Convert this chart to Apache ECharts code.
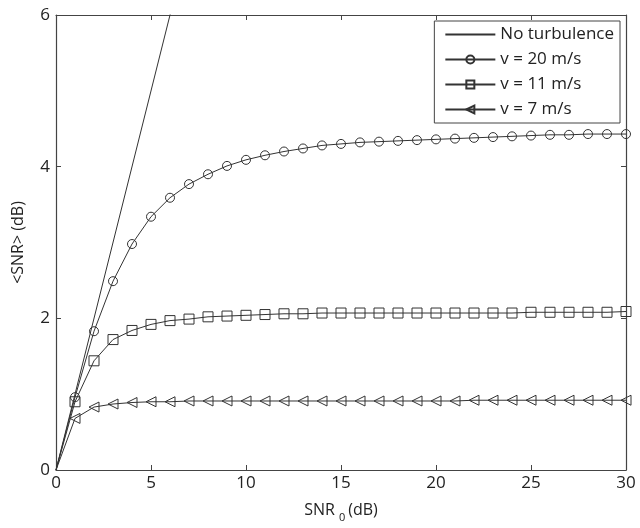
<!DOCTYPE html>
<html>
<head>
<meta charset="utf-8">
<script src="https://cdn.jsdelivr.net/npm/echarts@6/dist/echarts.min.js"></script>
<style>
  html, body { margin: 0; padding: 0; background: #fff; }
  #chart { width: 640px; height: 528px; }
</style>
</head>
<body>
<div id="chart"></div>
<script>
// SNR0 (dB) sample points
const snr0 = [0, 1, 2, 3, 4, 5, 6, 7, 8, 9, 10, 11, 12, 13, 14, 15, 16, 17, 18, 19, 20,
  21, 22, 23, 24, 25, 26, 27, 28, 29, 30];

// no turbulence: <SNR> = SNR0
const noTurbX = [0, 30];
const noTurbY = [0, 30];

const v20 = [0, 0.96, 1.83, 2.49, 2.98, 3.34, 3.59, 3.77, 3.9, 4.01, 4.09, 4.15, 4.2, 4.24,
  4.28, 4.3, 4.32, 4.33, 4.34, 4.35, 4.36, 4.37, 4.38, 4.39, 4.4, 4.41, 4.42, 4.42, 4.43, 4.43, 4.43];
const v11 = [0, 0.9, 1.44, 1.72, 1.84, 1.92, 1.97, 1.99, 2.02, 2.03, 2.04, 2.05, 2.06, 2.06,
  2.07, 2.07, 2.07, 2.07, 2.07, 2.07, 2.07, 2.07, 2.07, 2.07, 2.07, 2.08, 2.08, 2.08, 2.08, 2.08, 2.09];
const v7 = [0, 0.68, 0.83, 0.87, 0.89, 0.9, 0.9, 0.91, 0.91, 0.91, 0.91, 0.91, 0.91, 0.91,
  0.91, 0.91, 0.91, 0.91, 0.91, 0.91, 0.91, 0.91, 0.92, 0.92, 0.92, 0.92, 0.92, 0.92, 0.92, 0.92, 0.92];

const xTicks = [0, 5, 10, 15, 20, 25, 30];
const yTicks = [0, 2, 4, 6];

const lineColor = "#333";
const font = "'Open Sans', 'Noto Sans', sans-serif";

// first point (origin) is drawn without a marker
function pts(ys) {
  return snr0.map((x, i) => (i === 0 ? { value: [x, ys[i]], symbol: "none" } : [x, ys[i]]));
}

function markerSeries(name, ys, symbol, size, rotate) {
  return {
    name: name,
    type: "line",
    data: pts(ys),
    symbol: symbol,
    symbolSize: size,
    symbolRotate: rotate || 0,
    showAllSymbol: true,
    lineStyle: { color: lineColor, width: 1 },
    itemStyle: { color: "rgba(0,0,0,0)", borderColor: lineColor, borderWidth: 1 },
    emphasis: { disabled: true }
  };
}

const axisCommon = {
  type: "value",
  axisLine: { show: true, onZero: false, lineStyle: { color: "#444", width: 1.2 } },
  axisTick: { show: true, inside: true, length: 5, lineStyle: { color: "#444" } },
  splitLine: { show: false }
};

let myChart = echarts.init(document.getElementById("chart"));
const option = {
  backgroundColor: "#fff",
  animation: false,
  grid: { left: 56, right: 14, top: 15, bottom: 55 },
  legend: {
    orient: "vertical",
    right: 20,
    top: 21,
    itemWidth: 50,
    itemHeight: 10,
    itemGap: 8,
    padding: [5, 6, 5, 10],
    borderColor: "#444",
    borderWidth: 1,
    backgroundColor: "#fff",
    textStyle: { fontFamily: font, fontSize: 17, color: "#222" },
    data: [
      { name: "No turbulence", itemStyle: { opacity: 0 } },
      "v = 20 m/s", "v = 11 m/s", "v = 7 m/s"
    ]
  },
  xAxis: [
    Object.assign({}, axisCommon, {
      min: 0, max: 30, interval: 5,
      position: "bottom",
      name: "{a|SNR}{s|0}{a|(dB)}",
      nameLocation: "middle",
      nameGap: 28,
      nameTextStyle: {
        rich: {
          a: { fontFamily: font, fontSize: 16, color: "#222" },
          s: { fontFamily: font, fontSize: 11, color: "#222", padding: [14, 3, 0, 4] }
        }
      },
      axisLabel: {
        fontFamily: font, fontSize: 17, color: "#222", margin: 5,
        formatter: v => (xTicks.indexOf(v) >= 0 ? String(v) : "")
      }
    }),
    Object.assign({}, axisCommon, {
      min: 0, max: 30, interval: 5,
      position: "top",
      axisLabel: { show: false }
    })
  ],
  yAxis: [
    Object.assign({}, axisCommon, {
      min: 0, max: 6, interval: 2,
      position: "left",
      name: "<SNR> (dB)",
      nameLocation: "middle",
      nameGap: 30,
      nameTextStyle: { fontFamily: font, fontSize: 16, color: "#222" },
      axisLabel: {
        fontFamily: font, fontSize: 17, color: "#222", margin: 6,
        formatter: v => (yTicks.indexOf(v) >= 0 ? String(v) : "")
      }
    }),
    Object.assign({}, axisCommon, {
      min: 0, max: 6, interval: 2,
      position: "right",
      axisLabel: { show: false }
    })
  ],
  series: [
    {
      name: "No turbulence",
      type: "line",
      data: noTurbX.map((x, i) => [x, noTurbY[i]]),
      symbol: "none",
      clip: true,
      lineStyle: { color: lineColor, width: 1 },
      itemStyle: { color: lineColor },
      emphasis: { disabled: true }
    },
    markerSeries("v = 20 m/s", v20, "circle", 9),
    markerSeries("v = 11 m/s", v11, "rect", 10),
    markerSeries("v = 7 m/s", v7, "triangle", 10, 90)
  ]
};

myChart.setOption(option);
</script>
</body>
</html>
